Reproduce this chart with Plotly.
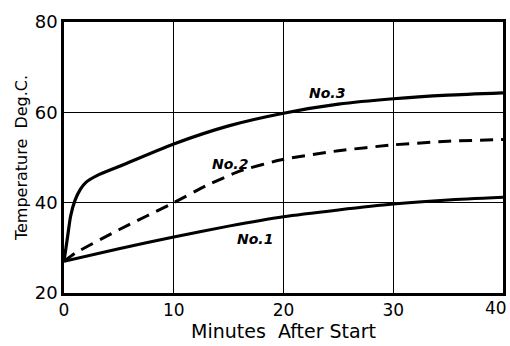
import plotly.graph_objects as go

minutes_no1 = [0, 5, 10, 15, 20, 25, 30, 35, 40]
temp_no1 = [27, 29.8, 32.4, 34.8, 36.9, 38.4, 39.7, 40.6, 41.2]

minutes_no2 = [0, 1, 5, 10, 13, 16, 20, 25, 30, 35, 40]
temp_no2 = [27, 28.8, 34.0, 40, 43.8, 47.0, 49.6, 51.5, 52.8, 53.6, 54.0]

minutes_no3 = [0, 0.3, 0.6, 1, 1.5, 2, 3, 5, 10, 15, 20, 25, 30, 35, 40]
temp_no3 = [27, 32, 37, 40.5, 43, 44.5, 46, 48, 53, 57, 59.8, 61.8, 63, 63.8, 64.3]

curve_labels = ["No.1", "No.2", "No.3"]
label_x = [17.4, 15.1, 24.0]
label_y = [32.0, 48.6, 64.2]

x_ticks = [0, 10, 20, 30, 40]
y_ticks = [20, 40, 60, 80]

FONT = "DejaVu Sans"

fig = go.Figure()
fig.add_trace(go.Scatter(x=minutes_no1, y=temp_no1, mode="lines",
                         line=dict(color="black", width=3, shape="spline", smoothing=0.6)))
fig.add_trace(go.Scatter(x=minutes_no2, y=temp_no2, mode="lines",
                         line=dict(color="black", width=3, dash="13px,8px", shape="spline", smoothing=0.5)))
fig.add_trace(go.Scatter(x=minutes_no3, y=temp_no3, mode="lines",
                         line=dict(color="black", width=3.2, shape="spline", smoothing=0.6)))

for t, x, y in zip(curve_labels, label_x, label_y):
    fig.add_annotation(x=x, y=y, text="<b><i>" + t + "</i></b>", showarrow=False,
                       font=dict(family=FONT, size=14, color="black"))

# last x tick label kept inside the page (reference shows it at the right edge)
fig.add_annotation(x=x_ticks[-1], xref="x", y=0, yref="paper", text=str(x_ticks[-1]),
                   showarrow=False, xanchor="right", yanchor="top", xshift=6, yshift=-3,
                   font=dict(family=FONT, size=17, color="black"))

fig.update_layout(
    width=510, height=346,
    margin=dict(l=64, r=7, t=22, b=53),
    paper_bgcolor="white", plot_bgcolor="white",
    showlegend=False,
    font=dict(family=FONT, color="black", size=17),
)
fig.update_xaxes(range=[0, 40], tickvals=x_ticks,
                 ticktext=[str(v) for v in x_ticks[:-1]] + [""],
                 showgrid=True, gridcolor="black", gridwidth=1,
                 showline=True, linecolor="black", linewidth=2.5, mirror=True,
                 ticks="", zeroline=False, automargin=False,
                 title=dict(text="Minutes  After Start", font=dict(size=19), standoff=0),
                 tickfont=dict(size=17))
fig.update_yaxes(range=[20, 80], tickvals=y_ticks, ticktext=[str(v) for v in y_ticks],
                 showgrid=True, gridcolor="black", gridwidth=1,
                 showline=True, linecolor="black", linewidth=2.5, mirror=True,
                 ticks="", zeroline=False, automargin=False,
                 title=dict(text="Temperature  Deg.C.", font=dict(size=16), standoff=4),
                 tickfont=dict(size=18))

fig.write_html("out.html")
